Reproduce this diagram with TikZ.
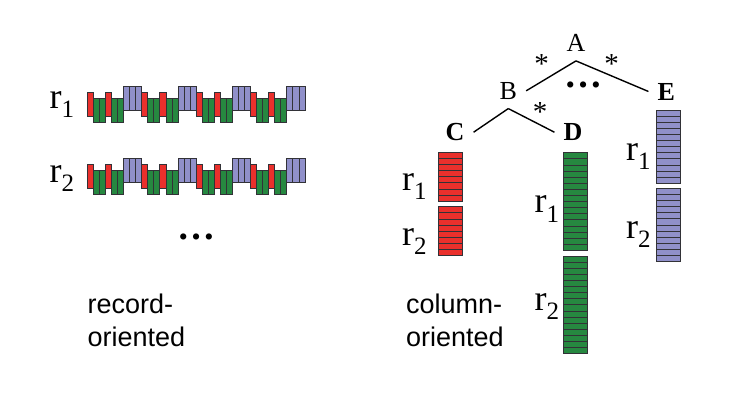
\documentclass[tikz,border=0pt]{standalone}
\usepackage{fontspec}
\setmainfont{Liberation Serif}
\setsansfont{Liberation Sans}
\usepackage{xcolor}
\usepackage{tikz}
\definecolor{colred}{RGB}{234,48,44}
\definecolor{colgreen}{RGB}{38,136,64}
\definecolor{colblue}{RGB}{144,144,202}
\definecolor{celledge}{RGB}{50,50,55}
\usetikzlibrary{positioning}
\newcommand{\rlab}[1]{r\raisebox{-9.5pt}{\fontsize{25}{25}\selectfont #1}}

\begin{document}
\begin{tikzpicture}[x=1pt, y=-1pt,
    cell/.style={draw=celledge, line width=0.8pt},
    tnode/.style={inner sep=9pt, font=\fontsize{26}{30}\selectfont},
    bnode/.style={tnode, font=\fontsize{26}{30}\selectfont\bfseries},
    edge/.style={line width=1.4pt, black},
    rnode/.style={inner sep=0pt, anchor=base west, font=\fontsize{36}{40}\selectfont},
    dots/.style={inner sep=0pt, anchor=base, font=\fontsize{38}{40}\selectfont\bfseries},
    note/.style={inner sep=0pt, anchor=north west, align=left,
                 font=\fontsize{27}{33}\selectfont\sffamily}
]
    \useasboundingbox (0,0) rectangle (734,396);

    % record-oriented layout
    \foreach \row in {86,158} {
        \foreach \g in {0,...,3} {
            \pgfmathsetmacro{\xo}{87.3+54.4*\g}
            \draw[cell, fill=colred]   (\xo,{\row+6.3})        rectangle ++(6.05,24.5);
            \draw[cell, fill=colgreen] ({\xo+6.05},{\row+12.3})  rectangle ++(6.05,24.5);
            \draw[cell, fill=colgreen] ({\xo+12.1},{\row+12.3})  rectangle ++(6.05,24.5);
            \draw[cell, fill=colred]   ({\xo+18.15},{\row+6.3})  rectangle ++(6.05,24.5);
            \draw[cell, fill=colgreen] ({\xo+24.2},{\row+12.3})  rectangle ++(6.05,24.5);
            \draw[cell, fill=colgreen] ({\xo+30.25},{\row+12.3}) rectangle ++(6.05,24.5);
            \foreach \k in {0,1,2}
                \draw[cell, fill=colblue] ({\xo+36.3+6.05*\k},\row) rectangle ++(6.05,24.5);
        }
    }
    \node[rnode] (lr1) at (49.5,108.3) {\rlab{1}};
    \node[rnode] (lr2) at (49.5,182)   {\rlab{2}};
    \node[dots] (ldots) at (196.5,239.5) {…};
    \node[note] (rec) at (87.5,294) {record-\\oriented};

    % column-oriented layout
    \foreach \x/\y/\n/\c in {438/152.3/8/colred, 438/206.7/8/colred,
                             563.3/152.7/16/colgreen, 563.3/256/16/colgreen,
                             656/110/12/colblue, 656/188.3/12/colblue} {
        \foreach \i in {1,...,\n}
            \draw[cell, fill=\c] (\x,{\y+(\i-1)*6.1}) rectangle ++(24.5,6.1);
    }
    \node[rnode] (cr1) at (402,190)   {\rlab{1}};
    \node[rnode] (cr2) at (402,245)   {\rlab{2}};
    \node[rnode] (dr1) at (534.5,212.7) {\rlab{1}};
    \node[rnode] (dr2) at (534.5,310)   {\rlab{2}};
    \node[rnode] (er1) at (626,160)   {\rlab{1}};
    \node[rnode] (er2) at (626,238.3) {\rlab{2}};
    \node[note] (col) at (406,294) {column-\\oriented};

    % schema tree
    \node[tnode, anchor=base] (A) at (576,51.7)  {A};
    \node[tnode, anchor=base] (B) at (508.3,99.3) {B};
    \node[bnode, anchor=base] (E) at (666.3,100)  {E};
    \node[bnode, anchor=base] (C) at (455,140.7)  {C};
    \node[bnode, anchor=base] (D) at (573,140.7)  {D};
    \draw[edge] (A.south) -- (B.east);
    \draw[edge] (A.south) -- (E.west);
    \draw[edge] (B.south) -- (C.east);
    \draw[edge] (B.south) -- (D.west);
    \node[tnode, inner sep=0pt, anchor=base, font=\fontsize{29}{30}\selectfont] (sab) at (541.7,73.5)  {*};
    \node[tnode, inner sep=0pt, anchor=base, font=\fontsize{29}{30}\selectfont] (sae) at (611.7,73.5)  {*};
    \node[tnode, inner sep=0pt, anchor=base, font=\fontsize{29}{30}\selectfont] (sbd) at (540,121.8) {*};
    \node[dots] (tdots) at (583,88) {…};
\end{tikzpicture}
\end{document}
